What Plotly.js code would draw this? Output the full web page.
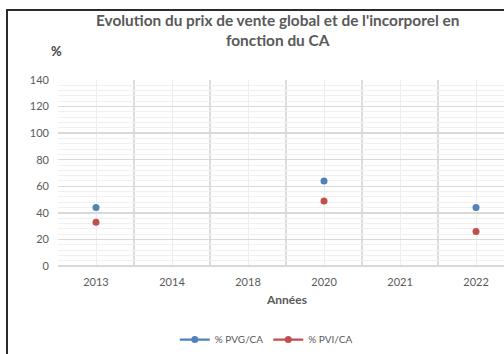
<!DOCTYPE html>
<html>
<head>
<meta charset="utf-8">
<script src="https://cdn.plot.ly/plotly-3.0.1.min.js"></script>
<style>
  html, body { margin: 0; padding: 0; background: #fff; overflow: hidden; }
  #wrap { position: relative; width: 504px; height: 354px; overflow: hidden; }
  #chart { position: absolute; left: 0; top: 0; width: 504px; height: 354px; }
  /* chart frame: only its top and left edges fall inside the window */
  #frame { position: absolute; left: 6px; top: 9px; width: 560px; height: 380px;
           border-left: 2px solid #2b2b2b; border-top: 2px solid #2b2b2b; pointer-events: none; }
</style>
</head>
<body>
<div id="wrap">
  <div id="chart"></div>
  <div id="frame"></div>
</div>
<script>
// Years shown on the category axis
const years = ['2013', '2014', '2018', '2020', '2021', '2022'];
// Prix de vente global / CA (%), null where no value
const pvgCa = [44, null, null, 64, null, 44];
// Prix de vente de l'incorporel / CA (%)
const pviCa = [33, null, null, 49, null, 26];

const positions = years.map((_, i) => i);
const font = 'Lato, "Open Sans", sans-serif';

const traces = [
  {
    x: positions, y: pvgCa, name: '% PVG/CA', type: 'scatter', mode: 'lines+markers',
    line: { color: '#4F81BD', width: 2.25 }, marker: { color: '#4F81BD', size: 7 },
    connectgaps: false
  },
  {
    x: positions, y: pviCa, name: '% PVI/CA', type: 'scatter', mode: 'lines+markers',
    line: { color: '#C0504D', width: 2.25 }, marker: { color: '#C0504D', size: 7 },
    connectgaps: false
  }
];

const layout = {
  width: 504, height: 354,
  paper_bgcolor: '#fff', plot_bgcolor: '#fff',
  margin: { l: 57.7, r: 0, t: 80, b: 87, pad: 0 },
  font: { family: font, color: '#595959', size: 11 },
  title: {
    text: 'Evolution du prix de vente global et de l\'incorporel en<br>fonction du CA',
    font: { family: font, size: 15.4, color: '#595959', weight: 'bold' },
    x: 0.551, xref: 'container', xanchor: 'center',
    y: 0.926, yref: 'container', yanchor: 'middle'
  },
  showlegend: true,
  legend: {
    orientation: 'h', x: 0.467, xanchor: 'center', y: -0.396, yref: 'paper', yanchor: 'middle',
    font: { family: font, size: 10, color: '#595959' },
    itemwidth: 30, tracegroupgap: 0
  },
  xaxis: {
    range: [-0.5, 5.368],
    tickmode: 'array', tickvals: positions, ticktext: years,
    showgrid: true, gridcolor: '#ededed', gridwidth: 1,
    minor: { tickmode: 'linear', tick0: -0.5, dtick: 1, showgrid: true, gridcolor: '#dcdcdc', gridwidth: 1.5 },
    zeroline: false, showline: false, ticks: '',
    ticklabelstandoff: 8,
    tickfont: { family: font, size: 11, color: '#595959' }
  },
  yaxis: {
    range: [0, 140], dtick: 20, tick0: 0,
    showgrid: true, gridcolor: '#d9d9d9', gridwidth: 1.5,
    minor: { dtick: 4, showgrid: true, gridcolor: '#f0f0f0', gridwidth: 1 },
    zeroline: true, zerolinecolor: '#d9d9d9', zerolinewidth: 1.5,
    showline: false, ticks: '',
    ticklabelstandoff: 8,
    tickfont: { family: font, size: 11, color: '#595959' }
  },
  annotations: [
    { text: '<b>%</b>', xref: 'paper', yref: 'paper', x: -0.003, y: 1.155, xanchor: 'center', yanchor: 'middle',
      showarrow: false, font: { family: font, size: 13, color: '#404040' } },
    { text: '<b>Années</b>', xref: 'x', yref: 'paper', x: 2.5, y: -0.18, xanchor: 'center', yanchor: 'middle',
      showarrow: false, font: { family: font, size: 12, color: '#595959' } }
  ]
};

Plotly.newPlot('chart', traces, layout, { displayModeBar: false, staticPlot: true });
</script>
</body>
</html>
